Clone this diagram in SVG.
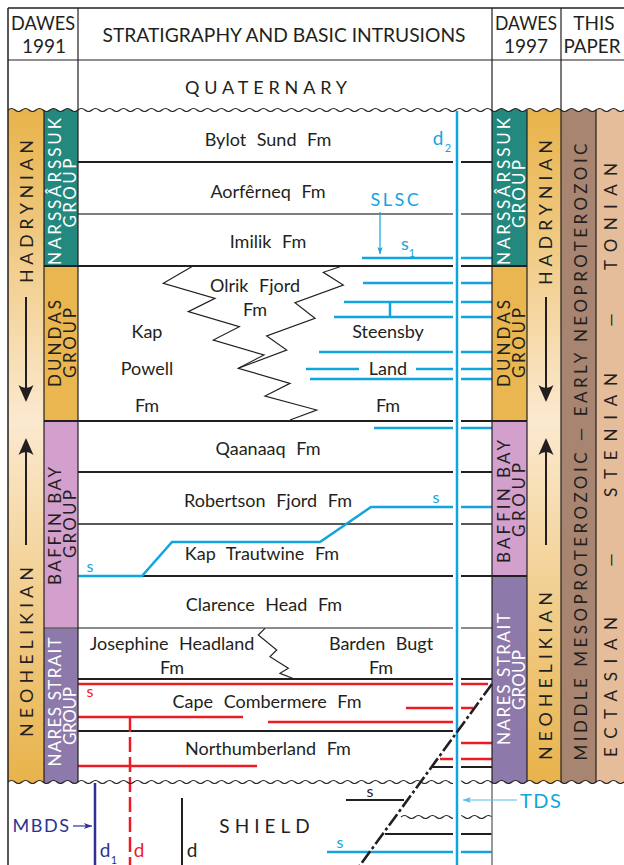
<svg xmlns="http://www.w3.org/2000/svg" width="624" height="865" viewBox="0 0 624 865">
<defs>
<linearGradient id="era" gradientUnits="userSpaceOnUse" x1="0" y1="110" x2="0" y2="782">
<stop offset="0" stop-color="#e8b34b"/>
<stop offset="0.463" stop-color="#fbe9cf"/>
<stop offset="1" stop-color="#e8b34b"/>
</linearGradient>
<marker id="ahB" viewBox="0 0 8 6" refX="8" refY="3" markerWidth="7" markerHeight="6" orient="auto" markerUnits="userSpaceOnUse"><path d="M0,0 L8,3 L0,6 L2,3 Z" fill="#12a4dc"/></marker>
<marker id="ahL" viewBox="0 0 8 6" refX="8" refY="3" markerWidth="8" markerHeight="6" orient="auto" markerUnits="userSpaceOnUse"><path d="M0,0 L8,3 L0,6 L2,3 Z" fill="#4fc1ea"/></marker>
<marker id="ahD" viewBox="0 0 8 6" refX="8" refY="3" markerWidth="8" markerHeight="6" orient="auto" markerUnits="userSpaceOnUse"><path d="M0,0 L8,3 L0,6 L2,3 Z" fill="#2e3192"/></marker>
<path id="ahead" d="M0,0 L-7.5,-17 Q0,-11 7.5,-17 Z" fill="#231f20"/>
</defs>
<style>
text{font-family:Lato,"Liberation Sans",sans-serif;fill:#231f20}
.fm{font-size:18px;word-spacing:6px;text-anchor:middle}
.hd{font-size:19px;text-anchor:middle}
.v{text-anchor:middle;font-size:17px}
.w{fill:#fff}
.e{font-size:18px;text-anchor:middle}
.bt{fill:#12a4dc}
.rt{fill:#ec1c24}
.dt{fill:#2e3192}
.blue{stroke:#12a4dc;stroke-width:2.5;fill:none}
.red{stroke:#ec1c24;stroke-width:2.5;fill:none}
.k{stroke:#231f20;fill:none}
.col{stroke:#231f20;stroke-width:1.2}
</style>
<rect width="624" height="865" fill="#fff"/>

<g id="columns">
<rect x="8" y="100" width="36" height="690" fill="url(#era)"/>
<rect x="527" y="100" width="34" height="690" fill="url(#era)"/>
<rect x="44" y="100" width="34" height="166" fill="#23897e"/>
<rect x="44" y="266" width="34" height="155" fill="#e9b64f"/>
<rect x="44" y="421" width="34" height="207" fill="#d3a0cd"/>
<rect x="44" y="628" width="34" height="162" fill="#8d7aaa"/>
<rect x="492" y="100" width="35" height="166" fill="#23897e"/>
<rect x="492" y="266" width="35" height="155" fill="#e9b64f"/>
<rect x="492" y="421" width="35" height="155" fill="#d3a0cd"/>
<rect x="492" y="576" width="35" height="214" fill="#8d7aaa"/>
<rect x="561" y="100" width="35" height="690" fill="#a88571"/>
<rect x="596" y="100" width="28" height="690" fill="#e5bd9b"/>
</g>

<g id="covers" fill="#fff">
<path d="M8,110 q3.5,-3 7,0 t7,0t7,0t7,0t7,0t7,0t7,0t7,0t7,0t7,0t7,0 t7,0t7,0t7,0t7,0t7,0t7,0t7,0t7,0t7,0t7,0 t7,0t7,0t7,0t7,0t7,0t7,0t7,0t7,0t7,0t7,0 t7,0t7,0t7,0t7,0t7,0t7,0t7,0t7,0t7,0t7,0 t7,0t7,0t7,0t7,0t7,0t7,0t7,0t7,0t7,0t7,0 t7,0t7,0t7,0t7,0t7,0t7,0t7,0t7,0t7,0t7,0 t7,0t7,0t7,0t7,0t7,0t7,0t7,0t7,0t7,0t7,0 t7,0t7,0t7,0t7,0t7,0t7,0t7,0t7,0t7,0t7,0 t7,0t7,0t7,0t7,0t7,0t7,0t7,0 V61 H8 Z"/>
<path d="M8,782 q3.5,-3 7,0 t7,0t7,0t7,0t7,0t7,0t7,0t7,0t7,0t7,0t7,0 t7,0t7,0t7,0t7,0t7,0t7,0t7,0t7,0t7,0t7,0 t7,0t7,0t7,0t7,0t7,0t7,0t7,0t7,0t7,0t7,0 t7,0t7,0t7,0t7,0t7,0t7,0t7,0t7,0t7,0t7,0 t7,0t7,0t7,0t7,0t7,0t7,0t7,0t7,0t7,0t7,0 t7,0t7,0t7,0t7,0t7,0t7,0t7,0t7,0t7,0t7,0 t7,0t7,0t7,0t7,0t7,0t7,0t7,0t7,0t7,0t7,0 t7,0t7,0t7,0t7,0t7,0t7,0t7,0t7,0t7,0t7,0 t7,0t7,0t7,0t7,0t7,0t7,0t7,0 V866 H8 Z"/>
</g>

<g id="boundaries" class="k">
<line x1="78" y1="162" x2="492" y2="162" stroke-width="2"/>
<line x1="78" y1="214" x2="492" y2="214" stroke-width="1.5" stroke="#555"/>
<line x1="44" y1="266" x2="527" y2="266" stroke-width="2.2"/>
<line x1="44" y1="421" x2="527" y2="421" stroke-width="2.2"/>
<line x1="78" y1="472" x2="492" y2="472" stroke-width="1.8"/>
<line x1="78" y1="524" x2="492" y2="524" stroke-width="1.5"/>
<line x1="78" y1="576" x2="527" y2="576" stroke-width="1.8"/>
<line x1="44" y1="628" x2="492" y2="628" stroke-width="1.5" stroke="#666"/>
<line x1="78" y1="679" x2="492" y2="679" stroke-width="1.8"/>
<line x1="78" y1="731" x2="458" y2="731" stroke-width="1.8"/>
<line x1="432" y1="767" x2="492" y2="767" stroke-width="1.8"/>
<polyline stroke-width="1.2" points="191.7,266.7 163.3,283.3 215,298.3 188.3,311.7 239.3,326.7 213.3,340 264,355 238.3,368.3 290,383.3 265,396 316.7,410 290,420"/>
<polyline stroke-width="1.2" points="340,266.7 323.3,272.3 343.3,285 295,302.7 315,318.3 266.7,336 286.7,350 238.3,368.3"/>
<polyline stroke-width="1.2" points="265,628.3 258.3,635 276.7,650 270,656.7 288.3,668.3 280,673.3 295,679.3"/>
</g>

<g id="formations">
<text class="fm" x="268" y="146">Bylot Sund Fm</text>
<text class="fm" x="268" y="198">Aorfêrneq Fm</text>
<text class="fm" x="268" y="248">Imilik Fm</text>
<text class="fm" x="255" y="292">Olrik Fjord</text>
<text class="fm" x="255" y="316">Fm</text>
<text class="fm" x="147" y="338">Kap</text>
<text class="fm" x="147" y="375">Powell</text>
<text class="fm" x="147" y="412">Fm</text>
<text class="fm" x="388" y="338">Steensby</text>
<text class="fm" x="388" y="375">Land</text>
<text class="fm" x="388" y="412">Fm</text>
<text class="fm" x="268" y="455">Qaanaaq Fm</text>
<text class="fm" x="268" y="507">Robertson Fjord Fm</text>
<text class="fm" x="262" y="560">Kap Trautwine Fm</text>
<text class="fm" x="264" y="611">Clarence Head Fm</text>
<text class="fm" x="172" y="650">Josephine Headland</text>
<text class="fm" x="172" y="674">Fm</text>
<text class="fm" x="381" y="650">Barden Bugt</text>
<text class="fm" x="381" y="674">Fm</text>
<text class="fm" x="267" y="708">Cape Combermere Fm</text>
<text class="fm" x="268" y="755">Northumberland Fm</text>
</g>

<g id="sills">
<path class="blue" d="M362,258 H492 M363,283 H492 M344,302 H492 M334,317 H492 M390,302 V317 M319,352 H492 M306,369 H359 M416,369 H492 M310,379 H492 M374,428 H492"/>
<path class="blue" d="M78,576 H142 L172,542 H320 L371,507 H492"/>
<path class="blue" d="M327,852 H492"/>
<path class="red" d="M78,684 H488 M406,708 H473 M78,717 H243 M268,722 H456 M453,743 H492 M440,759 H492 M78,766 H257"/>
<line x1="130" y1="717" x2="130" y2="865" class="red" stroke-dasharray="15 5"/>
<line x1="380" y1="212" x2="380" y2="254" stroke="#12a4dc" stroke-width="1.2" marker-end="url(#ahB)"/>
<text class="bt" x="396" y="206" font-size="18" letter-spacing="2.5" text-anchor="middle">SLSC</text>
<text class="bt" x="405" y="250" font-size="18" text-anchor="middle">s</text>
<text class="bt" x="412" y="257" font-size="11" text-anchor="middle">1</text>
<text class="bt" x="90" y="572" font-size="16" text-anchor="middle">s</text>
<text class="bt" x="436" y="503" font-size="16" text-anchor="middle">s</text>
<text class="rt" x="90" y="697" font-size="16" text-anchor="middle">s</text>
<text class="bt" x="340" y="848" font-size="16" text-anchor="middle">s</text>
</g>

<g id="shield">
<path class="k" stroke-width="1.2" d="M401,817 q3.5,-3 7,0 t7,0t7,0t7,0t7,0t7,0t7,0t7,0t7,0t7,0t7,0t7,0t7,0"/>
<line x1="346" y1="800" x2="404" y2="800" class="k" stroke-width="2.2"/>
<line x1="385" y1="834" x2="492" y2="834" class="k" stroke-width="2.2"/>
<text x="370" y="797" font-size="16" text-anchor="middle">s</text>
<line x1="95" y1="783" x2="95" y2="865" stroke="#2e3192" stroke-width="2.5"/>
<line x1="182" y1="798" x2="182" y2="865" class="k" stroke-width="2"/>
<text class="dt" x="41.5" y="832" font-size="18" letter-spacing="1.5" text-anchor="middle">MBDS</text>
<line x1="73" y1="826" x2="92" y2="826" stroke="#2e3192" stroke-width="1.2" marker-end="url(#ahD)"/>
<text class="dt" x="105" y="857" font-size="19" text-anchor="middle">d</text>
<text class="dt" x="114" y="864" font-size="11" text-anchor="middle">1</text>
<text class="rt" x="139" y="857" font-size="19" text-anchor="middle">d</text>
<text x="192" y="857" font-size="19" text-anchor="middle">d</text>
<text x="267" y="833" font-size="19" letter-spacing="5" text-anchor="middle">SHIELD</text>
<line x1="492" y1="782" x2="492" y2="865" stroke="#777" stroke-width="1.5"/>
</g>

<g id="frame" class="col">
<line x1="8" y1="8" x2="624" y2="8" stroke-width="1.5"/>
<line x1="8" y1="60" x2="624" y2="60"/>
<line x1="8" y1="8" x2="8" y2="865" stroke-width="1.5"/>
<line x1="78" y1="8" x2="78" y2="782"/>
<line x1="44" y1="110" x2="44" y2="782"/>
<line x1="492" y1="8" x2="492" y2="782"/>
<line x1="527" y1="110" x2="527" y2="782"/>
<line x1="561" y1="8" x2="561" y2="782"/>
<line x1="596" y1="110" x2="596" y2="782"/>
</g>

<g id="waves" class="k" stroke-width="1.2">
<path d="M8,110 q3.5,-3 7,0 t7,0t7,0t7,0t7,0t7,0t7,0t7,0t7,0t7,0t7,0 t7,0t7,0t7,0t7,0t7,0t7,0t7,0t7,0t7,0t7,0 t7,0t7,0t7,0t7,0t7,0t7,0t7,0t7,0t7,0t7,0 t7,0t7,0t7,0t7,0t7,0t7,0t7,0t7,0t7,0t7,0 t7,0t7,0t7,0t7,0t7,0t7,0t7,0t7,0t7,0t7,0 t7,0t7,0t7,0t7,0t7,0t7,0t7,0t7,0t7,0t7,0 t7,0t7,0t7,0t7,0t7,0t7,0t7,0t7,0t7,0t7,0 t7,0t7,0t7,0t7,0t7,0t7,0t7,0t7,0t7,0t7,0 t7,0t7,0t7,0t7,0t7,0t7,0t7,0"/>
<path d="M8,782 q3.5,-3 7,0 t7,0t7,0t7,0t7,0t7,0t7,0t7,0t7,0t7,0t7,0 t7,0t7,0t7,0t7,0t7,0t7,0t7,0t7,0t7,0t7,0 t7,0t7,0t7,0t7,0t7,0t7,0t7,0t7,0t7,0t7,0 t7,0t7,0t7,0t7,0t7,0t7,0t7,0t7,0t7,0t7,0 t7,0t7,0t7,0t7,0t7,0t7,0t7,0t7,0t7,0t7,0 t7,0t7,0t7,0t7,0t7,0t7,0t7,0t7,0t7,0t7,0 t7,0t7,0t7,0t7,0t7,0t7,0t7,0t7,0t7,0t7,0 t7,0t7,0t7,0t7,0t7,0t7,0t7,0t7,0t7,0t7,0 t7,0t7,0t7,0t7,0t7,0t7,0t7,0"/>
</g>

<g id="dyke-d2">
<line x1="457" y1="112" x2="457" y2="865" stroke="#fff" stroke-width="8"/>
<line x1="457" y1="111" x2="457" y2="865" stroke="#12a4dc" stroke-width="2.5"/>
<text class="bt" x="438" y="145" font-size="19" text-anchor="middle">d</text>
<text class="bt" x="448" y="152" font-size="11" text-anchor="middle">2</text>
</g>

<g id="fault">
<line x1="492" y1="684" x2="358" y2="868" stroke="#231f20" stroke-width="2.6" stroke-dasharray="14 3 3 3"/>
</g>

<g id="tds">
<line x1="517" y1="800" x2="463" y2="800" stroke="#4fc1ea" stroke-width="1.2" marker-end="url(#ahL)"/>
<text class="bt" x="520" y="808" font-size="20" letter-spacing="1.5">TDS</text>
</g>

<g id="header">
<text class="hd" x="43" y="30" textLength="64" lengthAdjust="spacingAndGlyphs">DAWES</text>
<text class="hd" x="44" y="53">1991</text>
<text class="hd" x="284" y="42" textLength="363" lengthAdjust="spacingAndGlyphs">STRATIGRAPHY AND BASIC INTRUSIONS</text>
<text class="hd" x="526" y="30" textLength="62" lengthAdjust="spacingAndGlyphs">DAWES</text>
<text class="hd" x="526" y="53">1997</text>
<text class="hd" x="594" y="30">THIS</text>
<text class="hd" x="592" y="53" textLength="57" lengthAdjust="spacingAndGlyphs">PAPER</text>
<text x="266" y="94" font-size="18" text-anchor="middle" textLength="162" lengthAdjust="spacing">QUATERNARY</text>
</g>

<g id="groups-left">
<text class="v w" transform="translate(61,191.5) rotate(-90)" textLength="147" lengthAdjust="spacing">NARSSÂRSSUK</text>
<text class="v w" transform="translate(76,193) rotate(-90)" textLength="69" lengthAdjust="spacing">GROUP</text>
<text class="v" transform="translate(61,343.5) rotate(-90)" textLength="87" lengthAdjust="spacing">DUNDAS</text>
<text class="v" transform="translate(76,343) rotate(-90)" textLength="70" lengthAdjust="spacing">GROUP</text>
<text class="v" transform="translate(61,526) rotate(-90)" textLength="118" lengthAdjust="spacing">BAFFIN BAY</text>
<text class="v" transform="translate(76,524) rotate(-90)" textLength="68" lengthAdjust="spacing">GROUP</text>
<text class="v w" transform="translate(61,702) rotate(-90)" textLength="129" lengthAdjust="spacing">NARES STRAIT</text>
<text class="v w" transform="translate(76,716) rotate(-90)" textLength="58" lengthAdjust="spacing">GROUP</text>
</g>

<g id="groups-right">
<text class="v w" transform="translate(510,191.5) rotate(-90)" textLength="147" lengthAdjust="spacing">NARSSÂRSSUK</text>
<text class="v w" transform="translate(525,194) rotate(-90)" textLength="68" lengthAdjust="spacing">GROUP</text>
<text class="v" transform="translate(510,343.5) rotate(-90)" textLength="87" lengthAdjust="spacing">DUNDAS</text>
<text class="v" transform="translate(525,343) rotate(-90)" textLength="70" lengthAdjust="spacing">GROUP</text>
<text class="v" transform="translate(510,501.5) rotate(-90)" textLength="123" lengthAdjust="spacing">BAFFIN BAY</text>
<text class="v" transform="translate(525,500) rotate(-90)" textLength="74" lengthAdjust="spacing">GROUP</text>
<text class="v w" transform="translate(510,679) rotate(-90)" textLength="132" lengthAdjust="spacing">NARES STRAIT</text>
<text class="v w" transform="translate(525,680) rotate(-90)" textLength="60" lengthAdjust="spacing">GROUP</text>
</g>

<g id="eras-left">
<text class="e" transform="translate(33,211.5) rotate(-90)" textLength="143" lengthAdjust="spacing">HADRYNIAN</text>
<line x1="26" y1="297" x2="26" y2="392" class="k" stroke-width="2"/>
<use href="#ahead" transform="translate(26,402)"/>
<text class="e" transform="translate(33,652) rotate(-90)" textLength="170" lengthAdjust="spacing">NEOHELIKIAN</text>
<line x1="26" y1="448" x2="26" y2="545" class="k" stroke-width="2"/>
<use href="#ahead" transform="translate(26,438) rotate(180)"/>
</g>

<g id="eras-right">
<text class="e" transform="translate(552,212.5) rotate(-90)" textLength="145" lengthAdjust="spacing">HADRYNIAN</text>
<line x1="546" y1="297" x2="546" y2="392" class="k" stroke-width="2"/>
<use href="#ahead" transform="translate(546,402)"/>
<text class="e" transform="translate(552,676) rotate(-90)" textLength="168" lengthAdjust="spacing">NEOHELIKIAN</text>
<line x1="546" y1="448" x2="546" y2="545" class="k" stroke-width="2"/>
<use href="#ahead" transform="translate(546,438) rotate(180)"/>
</g>

<g id="this-paper">
<text class="v" transform="translate(587,452) rotate(-90)" textLength="617" lengthAdjust="spacing">MIDDLE MESOPROTEROZOIC — EARLY NEOPROTEROZOIC</text>
<text class="v" transform="translate(617,687) rotate(-90)" textLength="140" lengthAdjust="spacing">ECTASIAN</text>
<text class="v" transform="translate(617,560) rotate(-90)">—</text>
<text class="v" transform="translate(617,435) rotate(-90)" textLength="124" lengthAdjust="spacing">STENIAN</text>
<text class="v" transform="translate(617,320) rotate(-90)">—</text>
<text class="v" transform="translate(617,216.5) rotate(-90)" textLength="107" lengthAdjust="spacing">TONIAN</text>
</g>
</svg>
